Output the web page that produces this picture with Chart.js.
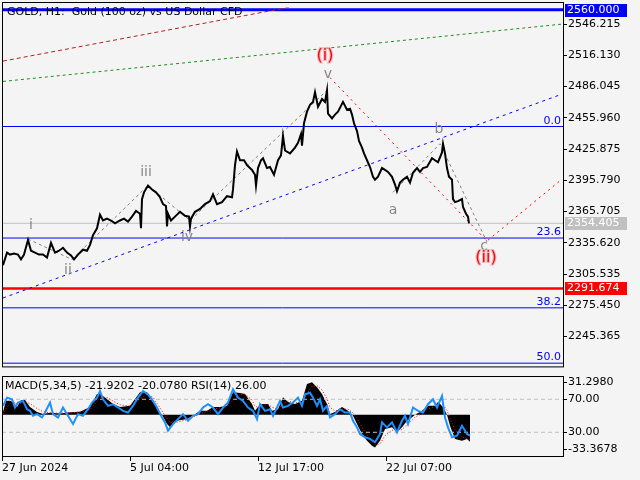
<!DOCTYPE html>
<html>
<head>
<meta charset="utf-8">
<script src="https://cdn.jsdelivr.net/npm/chart.js@4.4.1/dist/chart.umd.min.js"></script>
<style>
  html, body { margin: 0; padding: 0; background: #f4f4f4; }
  #wrap { position: relative; width: 640px; height: 480px; overflow: hidden; }
  #mainBox { position: absolute; left: 0; top: 0; width: 640px; height: 374px; }
  #subBox { position: absolute; left: 0; top: 374px; width: 640px; height: 106px; }
</style>
</head>
<body>
<div id="wrap">
  <div id="mainBox"><canvas id="main"></canvas></div>
  <div id="subBox"><canvas id="sub"></canvas></div>
</div>
<script>
// H1 bars, counted from the left edge of the window
const bars = [3,7,10,14,18,21,24,28,31,35,39,43,47,51,55,59,63,67,71,74,78,83,87,90,93,97,100,103,107,111,115,120,124,128,132,136,140,141,142,144,148,152,156,160,163,166,167,168,171,175,180,185,189,190,191,195,200,205,210,213,217,222,227,232,233,235,237,240,244,247,252,255,256,258,261,263,267,270,274,278,281,283,285,290,295,298,301,302,304,307,310,313,315,318,322,325,327,328,332,335,338,343,347,350,352,354,357,359,362,364,367,370,373,375,378,382,385,388,392,395,397,400,403,407,410,413,417,420,423,427,432,435,438,442,443,445,447,449,452,453,455,458,462,463,466,468,469];
const closes = [2314.0,2326.2,2324.3,2325.2,2324.3,2319.6,2324.3,2338.3,2328.0,2326.2,2324.3,2324.3,2321.4,2335.5,2326.2,2328.0,2330.8,2326.2,2323.4,2319.6,2324.3,2329.0,2328.0,2333.6,2343.0,2349.6,2362.7,2357.1,2358.9,2357.1,2354.3,2357.1,2358.9,2356.1,2360.8,2366.4,2363.6,2349.6,2377.7,2384.2,2390.8,2387.0,2384.2,2379.5,2372.9,2371.1,2351.4,2363.6,2357.1,2360.8,2365.5,2361.7,2360.8,2351.4,2358.9,2365.5,2368.3,2372.9,2375.8,2382.3,2372.9,2374.8,2380.5,2379.5,2387.0,2410.4,2423.5,2415.1,2415.1,2410.4,2405.8,2401.1,2390.8,2407.6,2415.1,2417.0,2407.6,2408.6,2401.1,2415.1,2419.8,2438.5,2424.5,2421.7,2427.3,2432.0,2440.4,2429.2,2450.7,2461.9,2468.5,2471.3,2480.7,2466.6,2474.1,2471.3,2482.5,2460.1,2455.4,2459.1,2461.9,2471.3,2463.8,2464.7,2459.1,2450.7,2443.2,2433.8,2427.3,2421.7,2415.1,2408.6,2399.2,2396.4,2399.2,2407.6,2405.8,2403.9,2399.2,2391.7,2385.2,2393.6,2396.4,2399.2,2393.6,2403.0,2407.6,2403.9,2407.6,2408.6,2417.0,2415.1,2413.2,2422.6,2431.0,2421.7,2407.6,2399.2,2396.4,2377.7,2374.8,2375.8,2377.7,2370.2,2363.6,2360.8,2354.4];

const priceTicks = [2546.215,2516.130,2486.045,2455.960,2425.875,2395.790,2365.705,2335.620,2305.535,2275.450,2245.365];
const timeTicks = [2, 130, 258, 386];
const timeLabels = ['27 Jun 2024', '5 Jul 04:00', '12 Jul 17:00', '22 Jul 07:00'];

const fibPrices = [2447.6, 2340.2, 2273.0, 2219.7];
const fibLabels = ['0.0', '23.6', '38.2', '50.0'];
const resistance = 2560.000;
const lastPrice = 2354.405;
const support = 2291.674;

const redChannelBars = [3, 320];
const redChannelPrices = [2510.6, 2568.0];
const greenChannelBars = [3, 562];
const greenChannelPrices = [2491.0, 2546.2];
const blueTrendBars = [3, 562];
const blueTrendPrices = [2282.5, 2478.8];
const correctionBars = [330, 487, 560];
const correctionPrices = [2494.7, 2337.4, 2395.4];
const impulseBars = [28, 72, 148, 190, 327];
const impulsePrices = [2339.2, 2319.6, 2390.8, 2357.1, 2482.5];
const abcBars = [393, 440, 487];
const abcPrices = [2384.2, 2431.0, 2336.4];

const waveText = ['i','ii','iii','iv','v','(i)','a','b','c','(ii)'];
const waveBars = [31, 68, 146, 187, 328, 325, 393, 439, 484, 486];
const wavePrices = [2352.4, 2309.3, 2403.9, 2341.2, 2497.5, 2515.3, 2366.9, 2445.1, 2332.0, 2321.5];

// sub window: MACD(5,34,5) + RSI(14)
const macdBars = [3,6,10,13,17,21,25,30,37,43,50,60,70,80,90,97,100,107,113,120,130,140,147,153,158,162,167,170,177,187,193,200,207,213,220,227,233,240,245,252,255,258,262,268,272,278,283,288,295,302,307,312,317,322,327,330,335,342,348,353,357,362,367,372,375,380,385,392,397,402,407,412,415,422,428,435,438,443,447,450,455,462,467,470];
const macdValues = [2.2,11.3,11.3,10.3,6.2,11.9,11.9,6.2,2.2,0.5,1.5,1.0,2.0,2.5,6.2,16.7,16.7,12.7,8.6,6.2,7.3,18.1,18.1,10.3,3.2,0,-7.5,-9.9,-4.9,-3.5,-0.8,3.2,3.2,6.2,6.2,7.3,18.1,17.5,16.7,8.6,3.2,6.2,8.6,8.6,3.2,4.5,14.1,10.3,8.6,11.3,24.8,26.2,22.2,16.7,8.6,0.6,2.2,6.2,3.2,-0.8,-7.5,-15.6,-21.0,-25.1,-26.4,-21.0,-11.6,-10.2,-14.2,-10.2,-4.9,-2.1,0,3.2,7.3,7.3,10.3,6.2,0,-8.9,-19.6,-21.0,-19.6,-21.9];
const signalValues = [0.5,5,9,10.5,8.5,9,10.5,9,5,2.5,1.5,1.2,1.5,2.2,4,11,14,14,11,8,7,13,16.5,14,8,3,-3,-6.5,-6,-4,-2,1,2.5,4.5,5.5,6.5,12,16,16.5,12,7,6,7.5,8.5,6,4.5,9,11,9.5,10,17,23,23.5,20,13,6,3,4.5,4.5,1.5,-3,-10,-16.5,-21.5,-24.5,-23.5,-17,-12.5,-13,-12,-8,-4.5,-2,1,5,6.5,8.5,8,3.5,-3,-12,-18,-19.5,-20.1];
const rsiBars = [3,7,12,15,18,23,27,30,33,37,42,45,50,53,58,63,68,73,78,83,88,92,97,100,103,108,113,118,123,128,133,138,143,148,153,157,162,165,168,173,178,183,188,193,198,203,208,213,218,223,228,233,238,243,248,253,257,260,265,270,273,277,280,283,288,293,298,302,305,310,313,317,320,323,327,330,335,340,345,350,353,357,360,365,370,375,380,382,387,392,397,402,405,408,413,418,423,428,433,437,442,445,448,452,457,462,467,470];
const rsiValues = [62,72,70,60,66,68,58,56,50,52,48,54,66,52,48,60,50,40,52,50,58,66,72,80,70,62,64,60,56,54,62,72,80,76,68,60,48,42,32,40,46,52,44,50,52,60,64,60,52,60,66,82,72,68,60,56,46,64,56,58,50,60,68,60,62,66,72,62,76,78,72,62,70,56,62,48,52,58,54,54,44,36,28,24,22,18,28,42,36,42,30,44,50,40,60,56,54,64,70,60,74,48,36,24,26,38,28,26];
const rsiLevels = [70, 30];
const macdRange = [-33.3678, 31.2980];

const X_MIN = 2, X_MAX = 563;

Chart.defaults.font.family = "'DejaVu Sans', sans-serif";
Chart.defaults.font.size = 11;
Chart.defaults.color = '#000';

const pts = (xs, ys) => xs.map((x, i) => ({ x: x, y: ys[i] }));
const flat = (v) => [{ x: X_MIN, y: v }, { x: X_MAX, y: v }];
const line = (data, color, width, dash, order) => ({
  type: 'line', data: data, borderColor: color, borderWidth: width,
  borderDash: dash || [], pointRadius: 0, tension: 0, fill: false, order: order
});

const mainDecor = {
  id: 'mainDecor',
  afterDraw(chart) {
    const { ctx, chartArea: a, scales: { x, y } } = chart;
    ctx.save();
    ctx.strokeStyle = '#000';
    ctx.lineWidth = 1;
    ctx.strokeRect(2.5, 2.5, a.right - 2, a.bottom - 2);

    // fibo level captions
    ctx.font = "11px 'DejaVu Sans'";
    ctx.fillStyle = '#0000ff';
    ctx.textAlign = 'right';
    ctx.textBaseline = 'alphabetic';
    fibPrices.forEach((p, i) => ctx.fillText(fibLabels[i], a.right - 2, y.getPixelForValue(p) - 3));

    // wave counts
    ctx.textAlign = 'center';
    ctx.textBaseline = 'middle';
    waveText.forEach((t, i) => {
      const px = x.getPixelForValue(waveBars[i]);
      const py = y.getPixelForValue(wavePrices[i]);
      if (t.startsWith('(')) {
        ctx.font = "16px 'DejaVu Sans'";
        ctx.lineWidth = 2;
        ctx.strokeStyle = 'rgba(255,170,170,0.9)';
        ctx.strokeText(t, px, py);
        ctx.fillStyle = '#e8101c';
      } else {
        ctx.font = "14px 'DejaVu Sans'";
        ctx.fillStyle = '#868686';
      }
      ctx.fillText(t, px, py);
    });

    // price tags on the axis
    ctx.font = "11px 'DejaVu Sans'";
    ctx.textAlign = 'left';
    [[resistance, '#0000ff'], [lastPrice, '#c0c0c0'], [support, '#ff0000']].forEach(([p, c]) => {
      const py = Math.round(y.getPixelForValue(p));
      ctx.fillStyle = c;
      ctx.fillRect(a.right + 2, Math.max(0, py - 6), 62, 13);
      ctx.fillStyle = '#fff';
      ctx.fillText(p.toFixed(3), a.right + 4, Math.max(6.5, py + 0.5));
    });

    ctx.fillStyle = '#000';
    ctx.fillText('GOLD, H1:  Gold (100 oz) vs US Dollar CFD', 7, 12);
    ctx.restore();
  }
};

new Chart(document.getElementById('main'), {
  type: 'line',
  data: {
    datasets: [
      line(pts(bars, closes), '#000', 2, [], 1),
      line(pts(impulseBars, impulsePrices), '#808080', 1, [3, 3], 2),
      line(pts(abcBars, abcPrices), '#808080', 1, [3, 3], 2),
      line(pts(correctionBars, correctionPrices), '#ff0000', 1, [2, 4], 3),
      line(pts(blueTrendBars, blueTrendPrices), '#0000ff', 1, [3, 4], 4),
      line(pts(redChannelBars, redChannelPrices), '#b22222', 1, [4, 3], 4),
      line(pts(greenChannelBars, greenChannelPrices), '#228b22', 1, [3, 3], 4),
      line(flat(resistance), '#0000ff', 3, [], 5),
      line(flat(support), '#ff0000', 2.5, [], 5),
      line(flat(lastPrice), '#c0c0c0', 1, [], 6),
      ...fibPrices.map(p => line(flat(p), '#0000ff', 1, [], 5))
    ]
  },
  options: {
    responsive: true,
    maintainAspectRatio: false,
    animation: false,
    events: [],
    layout: { padding: { left: 2, top: 3, right: 0, bottom: 2 } },
    plugins: { legend: { display: false }, tooltip: { enabled: false } },
    scales: {
      x: { type: 'linear', min: X_MIN, max: X_MAX, display: false },
      y: {
        position: 'right',
        min: 2216.6, max: 2562.1,
        afterFit(s) { s.width = 77; },
        afterBuildTicks(s) { s.ticks = priceTicks.map(v => ({ value: v })); },
        grid: { drawOnChartArea: false, tickLength: 4, color: '#000' },
        border: { color: '#000' },
        ticks: { padding: 1, color: '#000', callback: v => v.toFixed(3) }
      }
    }
  },
  plugins: [mainDecor]
});

const subDecor = {
  id: 'subDecor',
  afterDraw(chart) {
    const { ctx, chartArea: a, scales: { macd, yRsi } } = chart;
    ctx.save();
    ctx.strokeStyle = '#000';
    ctx.lineWidth = 1;
    ctx.strokeRect(2.5, a.top + 0.5, a.right - 2, a.bottom - a.top);
    ctx.font = "11px 'DejaVu Sans'";
    ctx.fillStyle = '#000';
    ctx.textBaseline = 'middle';
    ctx.fillText('MACD(5,34,5) -21.9202 -20.0780 RSI(14) 26.00', 5, 12);
    const labels = [
      [macdRange[1].toFixed(4), macd.getPixelForValue(macdRange[1]) + 6],
      [rsiLevels[0].toFixed(2), yRsi.getPixelForValue(rsiLevels[0])],
      [rsiLevels[1].toFixed(2), yRsi.getPixelForValue(rsiLevels[1])],
      [macdRange[0].toFixed(4), macd.getPixelForValue(macdRange[0]) - 7]
    ];
    labels.forEach(([t, py]) => {
      ctx.beginPath();
      ctx.moveTo(a.right, Math.round(py) + 0.5);
      ctx.lineTo(a.right + 4, Math.round(py) + 0.5);
      ctx.stroke();
      ctx.fillText(t, a.right + 5, py);
    });
    ctx.restore();
  }
};

new Chart(document.getElementById('sub'), {
  type: 'line',
  data: {
    datasets: [
      Object.assign(line(pts(rsiBars, rsiValues), '#1e90ff', 2, [], 1), { yAxisID: 'yRsi' }),
      Object.assign(line(pts(macdBars, signalValues), '#ff0000', 1, [1, 2], 2), { yAxisID: 'macd' }),
      ...rsiLevels.map(v => Object.assign(line(flat(v), '#c0c0c0', 1, [4, 3], 3), { yAxisID: 'yRsi' })),
      Object.assign(line(pts(macdBars, macdValues), '#000', 0, [], 4),
        { yAxisID: 'macd', fill: 'origin', backgroundColor: '#000' })
    ]
  },
  options: {
    responsive: true,
    maintainAspectRatio: false,
    animation: false,
    events: [],
    layout: { padding: { left: 2, top: 2, right: 0, bottom: 0 } },
    plugins: { legend: { display: false }, tooltip: { enabled: false } },
    scales: {
      x: {
        type: 'linear', min: X_MIN, max: X_MAX,
        afterFit(s) { s.height = 24; },
        afterBuildTicks(s) { s.ticks = timeTicks.map(v => ({ value: v })); },
        grid: { drawOnChartArea: false, tickLength: 5, color: '#000' },
        border: { color: '#000' },
        ticks: {
          align: 'start', maxRotation: 0, autoSkip: false, padding: 1, color: '#000',
          callback: v => timeLabels[timeTicks.indexOf(v)] || ''
        }
      },
      macd: {
        axis: 'y', type: 'linear', position: 'right', min: macdRange[0], max: macdRange[1],
        afterFit(s) { s.width = 77; },
        grid: { display: false },
        border: { color: '#000' },
        ticks: { display: false }
      },
      yRsi: { axis: 'y', type: 'linear', display: false, min: 1.3, max: 98.2 }
    }
  },
  plugins: [subDecor]
});
</script>
</body>
</html>
